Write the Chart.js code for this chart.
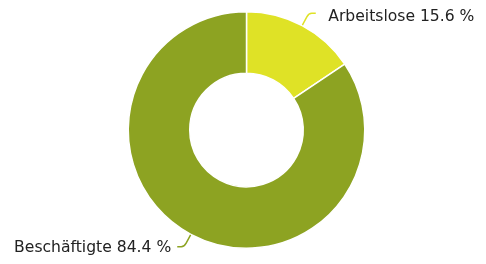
<!DOCTYPE html>
<html>
<head>
<meta charset="utf-8">
<script src="https://cdn.jsdelivr.net/npm/chart.js@4.4.0/dist/chart.umd.min.js"></script>
<style>
html,body{margin:0;padding:0;background:#fff;}
#wrap{width:486px;height:264px;}
</style>
</head>
<body>
<div id="wrap"><canvas id="c" width="486" height="264"></canvas></div>
<script>
const categories = ["Arbeitslose", "Beschäftigte"];
const values = [15.6, 84.4];
const colors = ["#dfe226", "#8da322"];
const labelTexts = ["Arbeitslose 15.6 %", "Beschäftigte 84.4 %"];

const leaderPlugin = {
  id: 'leaders',
  afterDatasetsDraw(chart) {
    const ctx = chart.ctx;
    const meta = chart.getDatasetMeta(0);
    ctx.save();
    ctx.font = '15.6px "DejaVu Sans"';
    ctx.fillStyle = '#222';
    ctx.textBaseline = 'alphabetic';
    meta.data.forEach((arc, i) => {
      const p = arc.getProps(['x','y','startAngle','endAngle','outerRadius'], true);
      const mid = (p.startAngle + p.endAngle) / 2;
      const c = Math.cos(mid), s = Math.sin(mid);
      const r0 = p.outerRadius + 0.5, r1 = p.outerRadius + 14;
      const x0 = p.x + c * r0, y0 = p.y + s * r0;
      const x1 = p.x + c * r1, y1 = p.y + s * r1;
      const dir = c >= 0 ? 1 : -1;
      const x2 = x1 + dir * 7;
      const xb = x0 + (x1 - x0) * 0.7, yb = y0 + (y1 - y0) * 0.7;
      ctx.strokeStyle = colors[i];
      ctx.lineWidth = 1.5;
      ctx.beginPath();
      ctx.moveTo(x0, y0);
      ctx.lineTo(xb, yb);
      ctx.quadraticCurveTo(x1, y1, x1 + dir * 3, y1);
      ctx.lineTo(x2, y1);
      ctx.stroke();
      if (dir > 0) {
        ctx.textAlign = 'left';
        ctx.fillText(labelTexts[i], x2 + 12.5, y1 + 8);
      } else {
        ctx.textAlign = 'right';
        ctx.fillText(labelTexts[i], x2 - 6, y1 + 5.8);
      }
    });
    ctx.restore();
  }
};

new Chart(document.getElementById('c'), {
  type: 'doughnut',
  data: {
    labels: categories,
    datasets: [{
      data: values,
      backgroundColor: colors,
      borderColor: '#ffffff',
      borderWidth: 1.5,
      hoverOffset: 0
    }]
  },
  options: {
    responsive: false,
    animation: false,
    cutout: '48%',
    layout: { padding: { left: 127, right: 120, top: 11, bottom: 15 } },
    plugins: { legend: { display: false }, tooltip: { enabled: false } }
  },
  plugins: [leaderPlugin]
});
</script>
</body>
</html>
